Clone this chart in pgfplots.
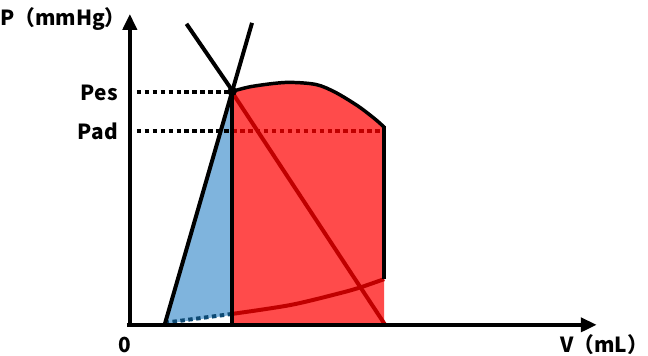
\documentclass[border=0pt]{standalone}
\usepackage{pgfplots}
\pgfplotsset{compat=1.18}
\usepackage{fontspec}
\setmainfont{Noto Sans CJK JP}
\usetikzlibrary{arrows.meta}
\definecolor{redfill}{HTML}{FF4B4B}
\definecolor{bluefill}{HTML}{7FB4DD}
\definecolor{darkred}{HTML}{C00000}
\definecolor{darkblue}{HTML}{0E4A73}
\tikzset{lab/.style={font=\fontsize{21}{24}\selectfont\bfseries, inner sep=0pt}}
\begin{document}
\begin{tikzpicture}
\begin{axis}[
  scale only axis, width=648bp, height=358bp,
  xmin=-130, xmax=518, ymin=-31, ymax=327,
  hide axis, clip=false,
]
\path (axis cs:-130,-31) rectangle (axis cs:518,327);
% blue region
\addplot[fill=bluefill, draw=none] coordinates {(35,1) (103,234) (103,10) (35,1)};
% red region
\addplot[fill=redfill, draw=none] coordinates {
 (103,0) (103,235) (123,240) (157,244) (187,242) (207,234) (230,220) (247,207) (256,199) (256,0) (103,0)};
% top outline of red region
\addplot[black, line width=3.5bp, smooth] coordinates {
 (103,235) (123,240) (157,244) (187,242) (207,234) (230,220) (247,207) (256,199)};
% dark red diagonal
\addplot[darkred, line width=4bp] coordinates {(103,234) (257,0)};
% EDPVR curve
\addplot[darkblue, line width=4bp, dash pattern=on 4.5bp off 3.5bp] coordinates {(35,2) (103,11)};
\addplot[darkred, line width=4bp, smooth] coordinates {(103,11) (162,20) (212,32) (233,38) (256,46)};
% Pes and Pad dotted lines
\addplot[black, line width=4bp, dash pattern=on 4.5bp off 3.5bp] coordinates {(7,234) (103,234)};
\addplot[black, line width=4bp, dash pattern=on 4.5bp off 3.5bp] coordinates {(7,195) (103,195)};
\addplot[darkred, line width=4bp, dash pattern=on 4.5bp off 3.5bp] coordinates {(103,195) (256,195)};
% right edge
\addplot[black, line width=3.5bp] coordinates {(256,200) (256,46)};
\addplot[white, line width=2bp, dash pattern=on 3bp off 3bp] coordinates {(257.5,44) (257.5,2)};
% vertical line at Ves
\addplot[black, line width=3.5bp] coordinates {(103,234) (103,0)};
% black lines through (Ves, Pes)
\addplot[black, line width=4bp] coordinates {(35,0) (123,304)};
\addplot[black, line width=4bp] coordinates {(57,303) (103,236)};
% point
\addplot[only marks, mark=*, mark size=4.5bp, black] coordinates {(103,235)};
% axes
\addplot[black, line width=4bp, -{Triangle[length=16bp,width=14bp]}] coordinates {(-3,0) (470,0)};
\addplot[black, line width=4bp, -{Triangle[length=16bp,width=14bp]}] coordinates {(0,-2) (0,313)};
% labels
\node[lab, anchor=east] at (axis cs:-4,308) {P（mmHg）};
\node[lab, anchor=east] at (axis cs:-12,233) {Pes};
\node[lab, anchor=east] at (axis cs:-12,195) {Pad};
\node[lab] at (axis cs:-5,-20) {0};
\node[lab, anchor=west] at (axis cs:433,-20) {V（mL）};
\end{axis}
\end{tikzpicture}
\end{document}
